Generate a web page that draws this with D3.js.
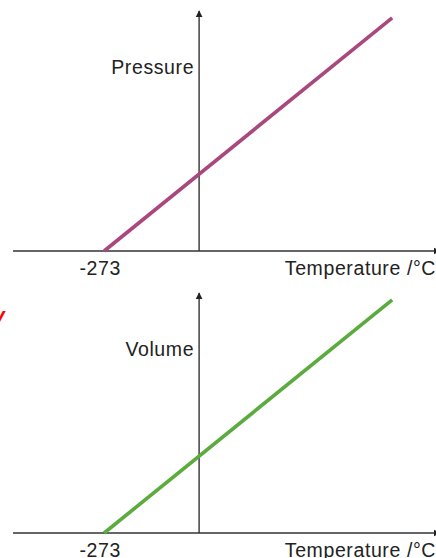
<!DOCTYPE html>
<html>
<head>
<meta charset="utf-8">
<script src="https://cdn.jsdelivr.net/npm/d3@7"></script>
<style>
  html, body { margin: 0; padding: 0; background: #fff; overflow: hidden; }
  text { font-family: "Liberation Sans", Arial, sans-serif; }
</style>
</head>
<body>
<svg id="chart"></svg>
<script>
// temperature readings (deg C) where the lines start and stop
var temps = [-273, 555];
// pressure / volume in arbitrary units (1 = value at 0 deg C)
var pressure = [0, 3.07];
var volume = [0, 3.07];
var xTickValues = [-273];
var xLabel = "Temperature /°C";
var panelLabels = ["Pressure", "Volume"];

const W = 436, H = 558;

const svg = d3.select('#chart')
    .attr('width', W)
    .attr('height', H);

// arrow head for the axes
svg.append('defs').append('marker')
    .attr('id', 'arrow')
    .attr('viewBox', '0 0 10 10')
    .attr('refX', 9)
    .attr('refY', 5)
    .attr('markerWidth', 7)
    .attr('markerHeight', 8)
    .attr('markerUnits', 'userSpaceOnUse')
    .attr('orient', 'auto')
    .append('path')
    .attr('d', 'M0,0 L10,5 L0,10 Z')
    .attr('fill', '#222');

// both panels share the same scales, only shifted down
var x = d3.scaleLinear().domain([-535, 681]).range([13, 436]);
var y = d3.scaleLinear().domain([0, 3.16]).range([251, 11]);

function drawPanel(offsetY, values, color, label) {
    var g = svg.append('g').attr('transform', `translate(0,${offsetY})`);
    var pts = temps.map((t, i) => [t, values[i]]);

    // x axis
    g.append('line')
        .attr('x1', x.range()[0]).attr('x2', x.range()[1] + 4)
        .attr('y1', y(0)).attr('y2', y(0))
        .attr('stroke', '#333').attr('stroke-width', 1.4)
        .attr('marker-end', 'url(#arrow)');

    // y axis through 0 deg C
    g.append('line')
        .attr('x1', x(0)).attr('x2', x(0))
        .attr('y1', y(0)).attr('y2', y(y.domain()[1]))
        .attr('stroke', '#333').attr('stroke-width', 1.4)
        .attr('marker-end', 'url(#arrow)');

    // the data line
    g.append('path')
        .datum(pts)
        .attr('d', d3.line().x(d => x(d[0])).y(d => y(d[1])))
        .attr('fill', 'none')
        .attr('stroke', color)
        .attr('stroke-width', 3.6)
        .attr('stroke-linecap', 'butt');

    // tick label(s)
    g.selectAll('.tick')
        .data(xTickValues)
        .enter().append('text')
        .attr('x', d => x(d) - 4)
        .attr('y', y(0) + 24)
        .attr('text-anchor', 'middle')
        .attr('font-size', 19.5)
        .attr('letter-spacing', 0.6)
        .attr('fill', '#222')
        .text(d => d);

    // axis titles
    g.append('text')
        .attr('x', W)
        .attr('y', y(0) + 24)
        .attr('text-anchor', 'end')
        .attr('font-size', 19.5)
        .attr('letter-spacing', 0.6)
        .attr('fill', '#222')
        .text(xLabel);

    g.append('text')
        .attr('x', x(0) - 5)
        .attr('y', 74)
        .attr('text-anchor', 'end')
        .attr('font-size', 19.5)
        .attr('letter-spacing', 0.6)
        .attr('fill', '#222')
        .text(label);
}

drawPanel(0, pressure, '#a8487c', panelLabels[0]);
drawPanel(282, volume, '#5cab3e', panelLabels[1]);

// clipped red mark on the left edge
svg.append('text')
    .attr('x', -9)
    .attr('y', 325)
    .attr('font-size', 20)
    .attr('font-style', 'italic')
    .attr('font-weight', 'bold')
    .attr('fill', '#ff0000')
    .text('V');
</script>
</body>
</html>
